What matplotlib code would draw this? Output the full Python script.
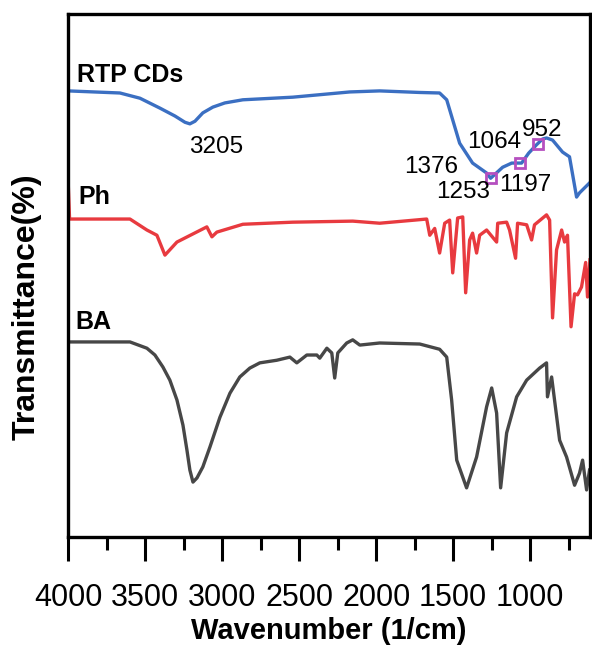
import numpy as np
import matplotlib
matplotlib.use("Agg")
import matplotlib.pyplot as plt
from matplotlib.ticker import MultipleLocator

plt.rcParams['font.family'] = ['Liberation Sans', 'DejaVu Sans']

# ---------------------------------------------------------------------------
# FTIR spectra (wavenumber in 1/cm, transmittance in arbitrary offset units)
# ---------------------------------------------------------------------------
rtp_wn = [4000, 3663, 3533, 3403, 3306, 3241, 3209, 3176, 3125, 3060, 2982,
          2865, 2541, 2171, 1977, 1717, 1588, 1542, 1458, 1374, 1283, 1257,
          1179, 1120, 1056, 1010, 959, 920, 894, 855, 790, 745, 699, 680, 615]
rtp_t = [85.3, 84.9, 83.9, 82.0, 80.5, 79.3, 79.0, 79.5, 81.1, 82.2, 83.0,
         83.6, 84.1, 85.1, 85.3, 85.0, 84.9, 83.6, 75.3, 71.5, 69.6, 68.6,
         70.7, 71.5, 71.5, 73.4, 75.0, 76.1, 76.3, 75.9, 73.6, 72.7, 65.0,
         65.8, 67.7]

ph_wn = [4000, 3990, 3598, 3488, 3423, 3371, 3293, 3099, 3066, 3034, 2865,
         2541, 2152, 1977, 1672, 1652, 1620, 1588, 1555, 1523, 1503, 1471,
         1438, 1419, 1393, 1374, 1348, 1328, 1283, 1218, 1211, 1153, 1134,
         1095, 1082, 1023, 991, 972, 894, 874, 855, 829, 796, 777, 758,
         735, 712, 693, 667, 640, 628, 612]
ph_t = [68.6, 60.8, 60.8, 58.7, 57.7, 53.9, 56.4, 59.3, 57.4, 58.3, 59.8,
        60.2, 60.4, 60.0, 60.8, 57.7, 59.0, 54.3, 60.0, 60.6, 50.5, 61.0,
        61.2, 46.7, 56.8, 58.1, 54.3, 57.7, 58.7, 56.4, 60.0, 60.2, 58.7,
        53.3, 60.0, 59.7, 56.8, 59.7, 61.6, 60.6, 41.9, 54.9, 58.7, 56.4, 57.7,
        40.2, 46.5, 46.3, 47.8, 52.5, 45.9, 53.0]

ba_wn = [4000, 3598, 3488, 3436, 3384, 3339, 3293, 3254, 3228, 3209, 3189,
         3163, 3125, 3079, 3014, 2949, 2885, 2820, 2755, 2645, 2560, 2515,
         2450, 2385, 2366, 2320, 2288, 2269, 2249, 2191, 2152, 2106, 1977,
         1717, 1588, 1542, 1510, 1477, 1413, 1348, 1283, 1250, 1218, 1192,
         1153, 1088, 1023, 939, 894, 888, 861, 809, 764, 712, 680, 660, 634,
         615]
ba_t = [37.3, 37.3, 36.1, 34.8, 32.5, 30.0, 26.2, 21.4, 16.6, 12.8, 10.5,
        11.3, 13.4, 17.2, 22.9, 27.5, 30.6, 32.3, 33.3, 33.8, 34.4, 33.3,
        34.8, 34.8, 34.2, 36.1, 35.2, 30.4, 35.2, 37.1, 37.7, 36.7, 37.1,
        36.9, 35.9, 34.4, 26.2, 14.7, 9.4, 15.3, 24.9, 28.5, 23.7, 9.4,
        19.9, 26.8, 30.0, 32.3, 33.3, 26.8, 30.6, 18.5, 15.3, 9.9, 12.2, 14.7,
        9.0, 12.8]

# marked peaks on the RTP CDs curve
marked_peaks = [1253, 1064, 952]

# peak labels: text, x (1/cm), y
peak_labels = ["3205", "1376", "1253", "1197", "1064", "952"]
peak_label_x = [3040, 1646, 1438, 1030, 1237, 920]
peak_label_y = [74.6, 70.7, 66.0, 67.3, 75.5, 77.8]

series_names = ["RTP CDs", "Ph", "BA"]
series_name_x = [3942, 3935, 3955]
series_name_y = [88.3, 65.0, 41.1]

fig = plt.figure(figsize=(5.92, 6.46), dpi=100)
ax = fig.add_axes([0.1149, 0.1687, 0.8817, 0.8096])

ax.plot(rtp_wn, rtp_t, color='#3b6fc2', lw=2.4, solid_joinstyle='round')
ax.plot(ph_wn, ph_t, color='#e83a3f', lw=2.4, solid_joinstyle='round')
ax.plot(ba_wn, ba_t, color='#474747', lw=2.4, solid_joinstyle='round')

# markers on the RTP CDs curve (np.interp needs ascending x)
mk_y = np.interp(marked_peaks, rtp_wn[::-1], rtp_t[::-1])
ax.plot(marked_peaks, mk_y, ls='none', marker='s', ms=7, mfc='none',
        mec='#b54fc0', mew=2.0)

for txt, x, y in zip(peak_labels, peak_label_x, peak_label_y):
    ax.text(x, y, txt, fontsize=17.5, ha='center', va='center')

for txt, x, y in zip(series_names, series_name_x, series_name_y):
    ax.text(x, y, txt, fontsize=18, fontweight='bold', ha='left', va='center')

ax.set_xlim(4000, 612)
ax.set_ylim(0, 100)
ax.xaxis.set_major_locator(MultipleLocator(500))
ax.xaxis.set_minor_locator(MultipleLocator(250))
ax.set_yticks([])
ax.tick_params(axis='x', which='major', direction='out', length=17, width=2.2,
               labelsize=22, pad=16)
ax.tick_params(axis='x', which='minor', direction='out', length=9, width=2.2)
for sp in ax.spines.values():
    sp.set_linewidth(2.4)

ax.set_xlabel('Wavenumber (1/cm)', fontsize=21, fontweight='bold', labelpad=3)
ax.set_ylabel('Transmittance(%)', fontsize=23, fontweight='bold')
ax.yaxis.set_label_coords(-0.05, 0.44)

fig.savefig('out.png', dpi=100)
